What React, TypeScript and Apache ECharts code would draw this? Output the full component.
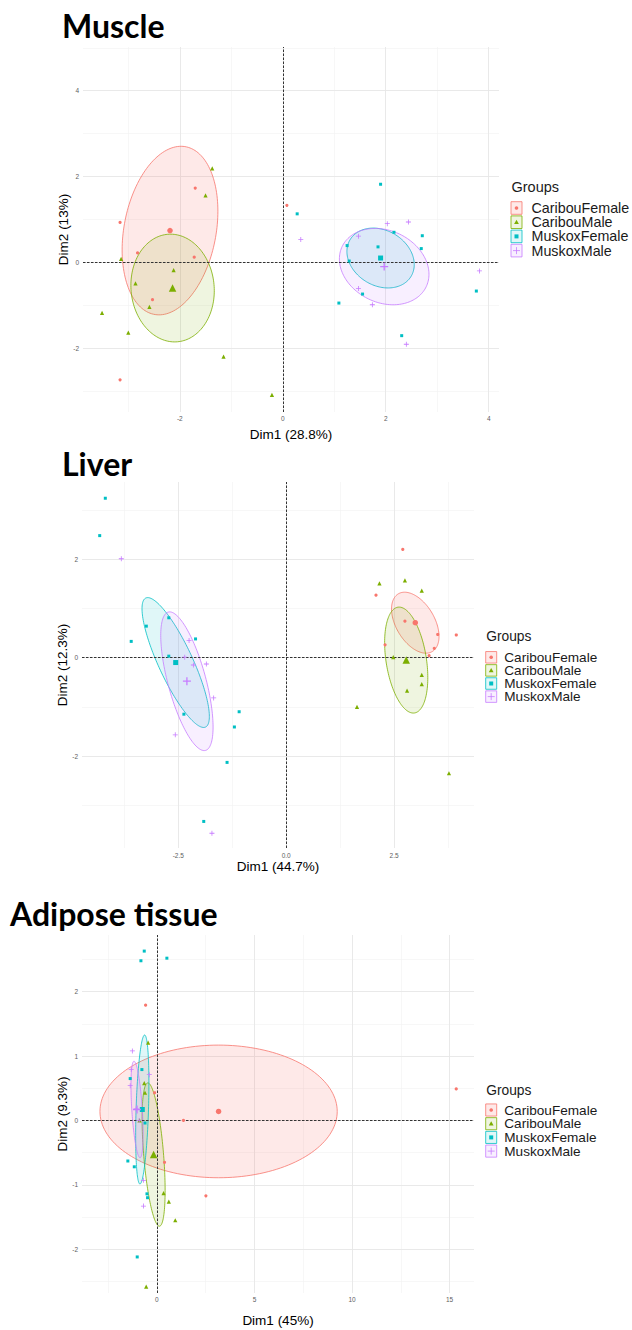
import React, { useEffect, useRef } from 'react';
import * as echarts from 'echarts';

// ---------- shared ----------
const groups = ['CaribouFemale', 'CaribouMale', 'MuskoxFemale', 'MuskoxMale'];
const colors = ['#F8766D', '#7CAE00', '#00BFC4', '#C77CFF'];
const fills = ['rgba(248,118,109,0.16)', 'rgba(124,174,0,0.12)', 'rgba(0,191,196,0.12)', 'rgba(199,124,255,0.12)'];
const plusPath = 'path://M0,4.2L10,4.2L10,5.8L0,5.8Z M4.2,0L5.8,0L5.8,10L4.2,10Z';
const symbols = ['circle', 'triangle', 'rect', plusPath];
const pointSizes = [3.2, 4.2, 3, 5];
const meanSizes = [5.5, 7.5, 5, 8];

// ---------- Muscle ----------
const muscleCaribouFemale = [[-3.16, 0.93], [-1.7, 1.73], [-2.82, 0.22], [-1.72, 0.12], [-2.53, -0.87], [-3.16, -2.74], [0.08, 1.33]];
const muscleCaribouMale = [[-1.37, 2.19], [-1.5, 1.56], [-3.14, 0.08], [-2.12, -0.18], [-2.86, -0.49], [-2.59, -1.04], [-3.51, -1.18], [-3.0, -1.64], [-1.15, -2.2], [-0.21, -3.09]];
const muscleMuskoxFemale = [[0.28, 1.13], [1.9, 1.82], [1.25, 0.39], [1.85, 0.36], [2.16, 0.7], [2.71, 0.62], [2.69, 0.32], [1.29, 0.03], [1.55, -0.74], [1.09, -0.95], [2.31, -1.71], [3.76, -0.67]];
const muscleMuskoxMale = [[0.35, 0.53], [1.47, 0.61], [2.03, 0.9], [2.44, 0.94], [1.47, -0.61], [1.74, -0.99], [2.4, -1.91], [3.82, -0.2]];
const muscleMeans = [[-2.19, 0.74], [-2.14, -0.6], [1.9, 0.1], [1.97, -0.1]];
// ellipse: half-width, half-height (data units), correlation
const muscleEllipses = [[0.93, 1.965, 0.23], [0.81, 1.256, -0.05], [0.654, 0.698, -0.22], [0.87, 0.89, -0.2]];
const muscleXMajor = [-2, 0, 2, 4];
const muscleXLabels = ['-2', '0', '2', '4'];
const muscleXMinor = [-3, -1, 1, 3];
const muscleYMajor = [-2, 0, 2, 4];
const muscleYLabels = ['-2', '0', '2', '4'];
const muscleYMinor = [-3, -1, 1, 3, 5];

// ---------- Liver ----------
const liverCaribouFemale = [[2.7, 2.2], [2.08, 1.27], [2.75, 0.74], [3.51, 0.47], [3.94, 0.46], [3.43, 0.19], [3.31, 0.04], [2.29, 0.26]];
const liverCaribouMale = [[2.16, 1.51], [2.75, 1.57], [3.14, 1.36], [2.48, 0.01], [3.14, -0.35], [3.14, -0.54], [2.8, -0.67], [1.64, -1.0], [3.77, -2.35]];
const liverMuskoxFemale = [[-4.19, 3.24], [-4.32, 2.48], [-3.59, 0.33], [-3.24, 0.64], [-2.72, 0.81], [-2.72, 0.03], [-2.1, 0.38], [-2.37, -1.15], [-1.09, -1.1], [-1.2, -1.41], [-1.37, -2.13], [-1.91, -3.33]];
const liverMuskoxMale = [[-3.82, 2.01], [-2.25, 0.35], [-2.35, 0.01], [-2.15, -0.15], [-1.85, -0.13], [-1.68, -0.82], [-2.57, -1.57], [-1.72, -3.57]];
const liverMeans = [[2.99, 0.71], [2.78, -0.05], [-2.56, -0.1], [-2.3, -0.48]];
const liverEllipses = [[0.55, 0.62, -0.45], [0.5, 1.077, -0.33], [0.78, 1.32, -0.83], [0.606, 1.41, -0.66]];
const liverXMajor = [-2.5, 0, 2.5];
const liverXLabels = ['-2.5', '0.0', '2.5'];
const liverXMinor = [-3.75, -1.25, 1.25, 3.75];
const liverYMajor = [-2, 0, 2];
const liverYLabels = ['-2', '0', '2'];
const liverYMinor = [-3, -1, 1, 3];

// ---------- Adipose tissue ----------
const adiposeCaribouFemale = [[-0.58, 1.79], [-0.12, 0.43], [1.36, 0.0], [0.39, -0.65], [2.51, -1.17], [15.34, 0.49]];
const adiposeCaribouMale = [[-0.45, 1.21], [-0.65, 0.58], [-0.61, 0.43], [-0.89, 0.0], [0.34, -1.13], [0.61, -1.26], [0.94, -1.55], [-0.55, -2.58]];
const adiposeMuskoxFemale = [[-0.65, 2.63], [-0.82, 2.48], [0.51, 2.52], [-0.77, 0.79], [-1.37, 0.65], [-0.61, -0.04], [-1.49, -0.63], [-1.16, -0.72], [-0.51, -1.14], [-0.48, -1.2], [-1.01, -2.12]];
const adiposeMuskoxMale = [[-1.26, 1.08], [-1.32, 0.79], [-1.37, 0.54], [-0.39, 0.71], [-1.06, 0.18], [-0.91, 0.0], [-0.69, -0.93], [-0.69, -1.33]];
const adiposeMeans = [[3.16, 0.14], [-0.17, -0.53], [-0.75, 0.17], [-1.02, 0.17]];
const adiposeEllipses = [[6.08, 1.03, 0.0], [0.59, 1.113, -0.5], [0.34, 1.157, 0.35], [0.31, 0.75, -0.5]];
const adiposeXMajor = [0, 5, 10, 15];
const adiposeXLabels = ['0', '5', '10', '15'];
const adiposeXMinor = [-2.5, 2.5, 7.5, 12.5];
const adiposeYMajor = [-2, -1, 0, 1, 2];
const adiposeYLabels = ['-2', '-1', '0', '1', '2'];
const adiposeYMinor = [-2.5, -1.5, -0.5, 0.5, 1.5, 2.5];

const panelTitles = ['Muscle', 'Liver', 'Adipose tissue'];
const xAxisNames = ['Dim1 (28.8%)', 'Dim1 (44.7%)', 'Dim1 (45%)'];
const yAxisNames = ['Dim2 (13%)', 'Dim2 (12.3%)', 'Dim2 (9.3%)'];

const panels = [
  {
    pts: [muscleCaribouFemale, muscleCaribouMale, muscleMuskoxFemale, muscleMuskoxMale], means: muscleMeans, ell: muscleEllipses,
    grid: { left: 83, top: 47, width: 416, height: 365 },
    x: { min: -3.88, max: 4.2 }, y: { min: -3.49, max: 5.02 },
    xt: { major: muscleXMajor, labels: muscleXLabels, minor: muscleXMinor },
    yt: { major: muscleYMajor, labels: muscleYLabels, minor: muscleYMinor },
    xGap: 15, yGap: 13, xLabDist: 3, title: { x: 62, y: 25 },
    legend: { box: 511, title: 186.7, first: 208, sp: 14.2, text: 531.5, fs: 14.3 },
  },
  {
    pts: [liverCaribouFemale, liverCaribouMale, liverMuskoxFemale, liverMuskoxMale], means: liverMeans, ell: liverEllipses,
    grid: { left: 82, top: 482, width: 392, height: 366 },
    x: { min: -4.73, max: 4.35 }, y: { min: -3.87, max: 3.57 },
    xt: { major: liverXMajor, labels: liverXLabels, minor: liverXMinor },
    yt: { major: liverYMajor, labels: liverYLabels, minor: liverYMinor },
    xGap: 11, yGap: 13, xLabDist: 4, title: { x: 62, y: 463 },
    legend: { box: 485.7, title: 636.7, first: 657.3, sp: 13.1, text: 504.3, fs: 13.6 },
  },
  {
    pts: [adiposeCaribouFemale, adiposeCaribouMale, adiposeMuskoxFemale, adiposeMuskoxMale], means: adiposeMeans, ell: adiposeEllipses,
    grid: { left: 82, top: 935, width: 392, height: 358 },
    x: { min: -3.84, max: 16.25 }, y: { min: -2.68, max: 2.88 },
    xt: { major: adiposeXMajor, labels: adiposeXLabels, minor: adiposeXMinor },
    yt: { major: adiposeYMajor, labels: adiposeYLabels, minor: adiposeYMinor },
    xGap: 20, yGap: 13, xLabDist: 3, title: { x: 10, y: 913 },
    legend: { box: 485.7, title: 1090, first: 1110, sp: 13.7, text: 504.3, fs: 13.6 },
  },
];

const FONT = '"Liberation Sans", Arial, sans-serif';
const tickLabelStyle = { fontSize: 6.5, color: '#5e5e5e', fontFamily: FONT, textBorderWidth: 0, textBorderColor: 'transparent' };

function makeAxis(i: number, a: any, name: string, gap: number) {
  return {
    type: 'value',
    gridIndex: i,
    min: a.min,
    max: a.max,
    name,
    nameLocation: 'middle',
    nameGap: gap,
    nameTextStyle: { fontSize: 13.5, color: '#000', fontFamily: FONT },
    axisLine: { show: false, onZero: false },
    axisTick: { show: false },
    axisLabel: { show: false },
    splitLine: { show: false },
  };
}

function gridLineData(P: any) {
  const d: any[] = [];
  const majorStyle = { color: '#e6e6e6', width: 0.9, type: 'solid' };
  const minorStyle = { color: '#f1f1f1', width: 0.6, type: 'solid' };
  P.xt.minor.forEach((v: number) => d.push({ xAxis: v, lineStyle: minorStyle, label: { show: false } }));
  P.yt.minor.forEach((v: number) => d.push({ yAxis: v, lineStyle: minorStyle, label: { show: false } }));
  P.xt.major.forEach((v: number, k: number) =>
    d.push({ xAxis: v, lineStyle: majorStyle, label: { show: true, position: 'start', distance: P.xLabDist, formatter: P.xt.labels[k], ...tickLabelStyle } }));
  P.yt.major.forEach((v: number, k: number) =>
    d.push({ yAxis: v, lineStyle: majorStyle, label: { show: true, position: 'start', distance: 4, formatter: P.yt.labels[k], ...tickLabelStyle } }));
  return d;
}

function legendGraphics(L: any) {
  const els: any[] = [];
  els.push({
    type: 'text', x: L.box + 0.5, y: L.title,
    style: { text: 'Groups', fontSize: L.fs + 0.2, fontFamily: FONT, fill: '#1a1a1a', align: 'left', verticalAlign: 'middle' },
  });
  groups.forEach((g, gi) => {
    const cy = L.first + gi * L.sp;
    const bh = L.sp - 1.6;
    const cx = L.box + 5.5;
    els.push({
      type: 'rect', shape: { x: L.box, y: cy - bh / 2, width: 11, height: bh },
      style: { fill: fills[gi], stroke: colors[gi], lineWidth: 0.8 },
    });
    if (gi === 0) els.push({ type: 'circle', shape: { cx, cy, r: 1.8 }, style: { fill: colors[gi] } });
    if (gi === 1) els.push({ type: 'polygon', shape: { points: [[cx, cy - 2.4], [cx + 2.4, cy + 1.8], [cx - 2.4, cy + 1.8]] }, style: { fill: colors[gi] } });
    if (gi === 2) els.push({ type: 'rect', shape: { x: cx - 2, y: cy - 2, width: 4, height: 4 }, style: { fill: colors[gi] } });
    if (gi === 3) {
      els.push({ type: 'line', shape: { x1: cx - 3.5, y1: cy, x2: cx + 3.5, y2: cy }, style: { stroke: colors[gi], lineWidth: 0.8 } });
      els.push({ type: 'line', shape: { x1: cx, y1: cy - 3.5, x2: cx, y2: cy + 3.5 }, style: { stroke: colors[gi], lineWidth: 0.8 } });
    }
    els.push({
      type: 'text', x: L.text, y: cy,
      style: { text: g, fontSize: L.fs, fontFamily: FONT, fill: '#1a1a1a', align: 'left', verticalAlign: 'middle' },
    });
  });
  return els;
}

function buildOption() {
  const grid: any[] = [];
  const xAxis: any[] = [];
  const yAxis: any[] = [];
  const series: any[] = [];
  const graphic: any[] = [];

  panels.forEach((P, pi) => {
    grid.push({ ...P.grid, containLabel: false });
    xAxis.push(makeAxis(pi, P.x, xAxisNames[pi], P.xGap));
    yAxis.push(makeAxis(pi, P.y, yAxisNames[pi], P.yGap));

    // panel grid lines and tick labels
    series.push({
      type: 'scatter',
      name: 'grid' + pi,
      xAxisIndex: pi,
      yAxisIndex: pi,
      silent: true,
      z: 0,
      itemStyle: { color: '#5e5e5e' },
      data: [],
      markLine: { silent: true, symbol: 'none', animation: false, z: 0, data: gridLineData(P) },
    });

    // ellipses
    groups.forEach((g, gi) => {
      const fill = fills[gi];
      const stroke = colors[gi];
      series.push({
        type: 'custom',
        name: g + ' ellipse ' + pi,
        xAxisIndex: pi,
        yAxisIndex: pi,
        silent: true,
        z: 1,
        encode: { x: 0, y: 1 },
        data: [[P.means[gi][0], P.means[gi][1], P.ell[gi][0], P.ell[gi][1], P.ell[gi][2]]],
        renderItem: (params: any, api: any) => {
          const cx = api.value(0), cy = api.value(1), W = api.value(2), H = api.value(3), k = api.value(4);
          const d = Math.acos(k);
          const points: number[][] = [];
          const n = 160;
          for (let i = 0; i < n; i++) {
            const t = (i / n) * Math.PI * 2;
            points.push(api.coord([cx + W * Math.cos(t), cy + H * Math.cos(t - d)]));
          }
          return { type: 'polygon', shape: { points }, style: { fill, stroke, lineWidth: 0.8, opacity: 1 } };
        },
      });
    });

    // points
    groups.forEach((g, gi) => {
      const s: any = {
        type: 'scatter',
        name: g,
        xAxisIndex: pi,
        yAxisIndex: pi,
        silent: true,
        z: 3,
        symbol: symbols[gi],
        symbolSize: pointSizes[gi],
        itemStyle: { color: colors[gi], opacity: 1 },
        data: P.pts[gi],
      };
      if (gi === 0) {
        s.markLine = {
          silent: true,
          symbol: 'none',
          label: { show: false },
          lineStyle: { color: '#333', type: [2.5, 1.5], width: 1 },
          data: [{ xAxis: 0 }, { yAxis: 0 }],
          z: 2.5,
        };
      }
      series.push(s);
    });

    // group means
    groups.forEach((g, gi) => {
      series.push({
        type: 'scatter',
        name: g + ' mean',
        xAxisIndex: pi,
        yAxisIndex: pi,
        silent: true,
        z: 4,
        symbol: symbols[gi],
        symbolSize: meanSizes[gi],
        itemStyle: { color: colors[gi], opacity: 1 },
        data: [P.means[gi]],
      });
    });

    graphic.push({
      type: 'text', x: P.title.x, y: P.title.y,
      style: { text: panelTitles[pi], fontSize: 32, fontWeight: 'bold', fontFamily: 'Lato, "Open Sans", sans-serif', fill: '#000', align: 'left', verticalAlign: 'middle' },
    });
    legendGraphics(P.legend).forEach((e) => graphic.push(e));
  });

  return { animation: false, backgroundColor: '#fff', grid, xAxis, yAxis, series, graphic };
}

export default function App() {
  const ref = useRef<HTMLDivElement>(null);
  useEffect(() => {
    if (!ref.current) return;
    const chart = echarts.init(ref.current, undefined, { renderer: 'svg' });
    chart.setOption(buildOption() as any);
    return () => chart.dispose();
  }, []);
  return <div ref={ref} style={{ position: 'absolute', left: 0, top: 0, width: 632, height: 1330, background: '#fff' }} />;
}
